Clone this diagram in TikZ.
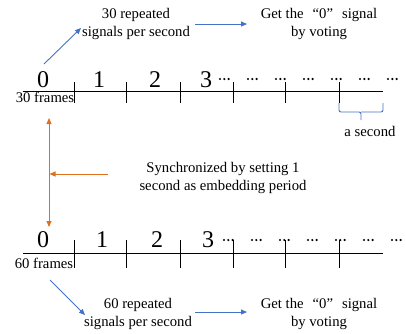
\documentclass[tikz,border=0pt]{standalone}
\usepackage{fontspec}
\setmainfont{Liberation Serif}
\usetikzlibrary{arrows.meta}
\definecolor{myblue}{RGB}{68,114,196}
\definecolor{myorange}{RGB}{222,112,30}
\tikzset{
  txt/.style={font=\fontsize{14.7}{18}\selectfont, align=center, inner sep=0pt},
  digit/.style={font=\fontsize{24}{24}\selectfont, anchor=base, inner sep=0pt},
  small/.style={font=\fontsize{14.7}{18}\selectfont, anchor=base, inner sep=0pt},
  axis/.style={line width=0.8pt, black},
  tick/.style={line width=0.8pt, black},
  barrow/.style={myblue, line width=0.9pt, -{Triangle[length=6pt,width=5pt]}},
  oarrow/.style={myorange, line width=0.9pt, -{Triangle[length=6pt,width=5pt]}},
  dotstyle/.style={fill=black, draw=none},
}
\begin{document}
\begin{tikzpicture}[x=1pt,y=-1pt]
\useasboundingbox (0,0) rectangle (406,333);
% ---------- top axis ----------
\coordinate (ta0) at (23,91);
\coordinate (ta1) at (383,91);
\draw[axis] (ta0) -- (ta1);
\foreach \x in {74,126,180,233,285,339} \draw[tick] (\x,82) -- (\x,103);
\node[digit] (t0) at (43,87) {0};
\node[digit] (t1) at (99,87) {1};
\node[digit] (t2) at (155,87) {2};
\node[digit] (t3) at (206,87) {3};
\foreach \g in {220,248,276,304,332,360,388}
  \foreach \d in {0,4.3,8.6} \fill[dotstyle] (\g+\d,79) circle (1.2);
\node[small] (tf) at (45,102) {30 frames};
% brace
\draw[myblue, line width=0.9pt, rounded corners=2pt] (339,103) -- (339,112) -- (361,112) -- (361,120);
\draw[myblue, line width=0.9pt, rounded corners=2pt] (383,103) -- (383,112) -- (361,112);
\node[txt] (asec) at (370,131) {a second};
% top texts
\node[txt] (t30) at (136,24) {30 repeated\\signals per second};
\node[txt] (tget) at (319,24) {Get the\hspace{9pt}“0”\hspace{9pt}signal\\by voting};
\coordinate (ba1) at (44,64);
\coordinate (ba2) at (81,28);
\draw[barrow] (ba1) -- (ba2);
\coordinate (bb1) at (195,24);
\coordinate (bb2) at (247,24);
\draw[barrow] (bb1) -- (bb2);
% ---------- sync ----------
\coordinate (ov1) at (49,118);
\coordinate (ov2) at (49,227);
\draw[myorange, line width=0.9pt, {Triangle[length=6pt,width=5pt]}-{Triangle[length=6pt,width=5pt]}] (ov1) -- (ov2);
\coordinate (oh1) at (108,174);
\coordinate (oh2) at (49.5,174);
\draw[oarrow] (oh1) -- (oh2);
\node[txt] (sync) at (223,178) {Synchronized by setting 1\\second as embedding period};
% ---------- bottom axis ----------
\coordinate (ba0) at (23,253);
\coordinate (baE) at (383,253);
\draw[axis] (ba0) -- (baE);
\foreach \x in {74,126,180,233,285,339} \draw[tick] (\x,240) -- (\x,268);
\node[digit] (b0) at (43,247) {0};
\node[digit] (b1) at (102,247) {1};
\node[digit] (b2) at (157,247) {2};
\node[digit] (b3) at (208,247) {3};
\foreach \g in {224,252,280,308,336,364,392}
  \foreach \d in {0,4.3,8.6} \fill[dotstyle] (\g+\d,240) circle (1.2);
\node[small] (bf) at (44,268) {60 frames};
\node[txt] (b60) at (138,314) {60 repeated\\signals per second};
\node[txt] (bget) at (319,314) {Get the\hspace{9pt}“0”\hspace{9pt}signal\\by voting};
\coordinate (bc1) at (50,280);
\coordinate (bc2) at (85,315);
\draw[barrow] (bc1) -- (bc2);
\coordinate (bd1) at (195,312);
\coordinate (bd2) at (247,312);
\draw[barrow] (bd1) -- (bd2);
\end{tikzpicture}
\end{document}
